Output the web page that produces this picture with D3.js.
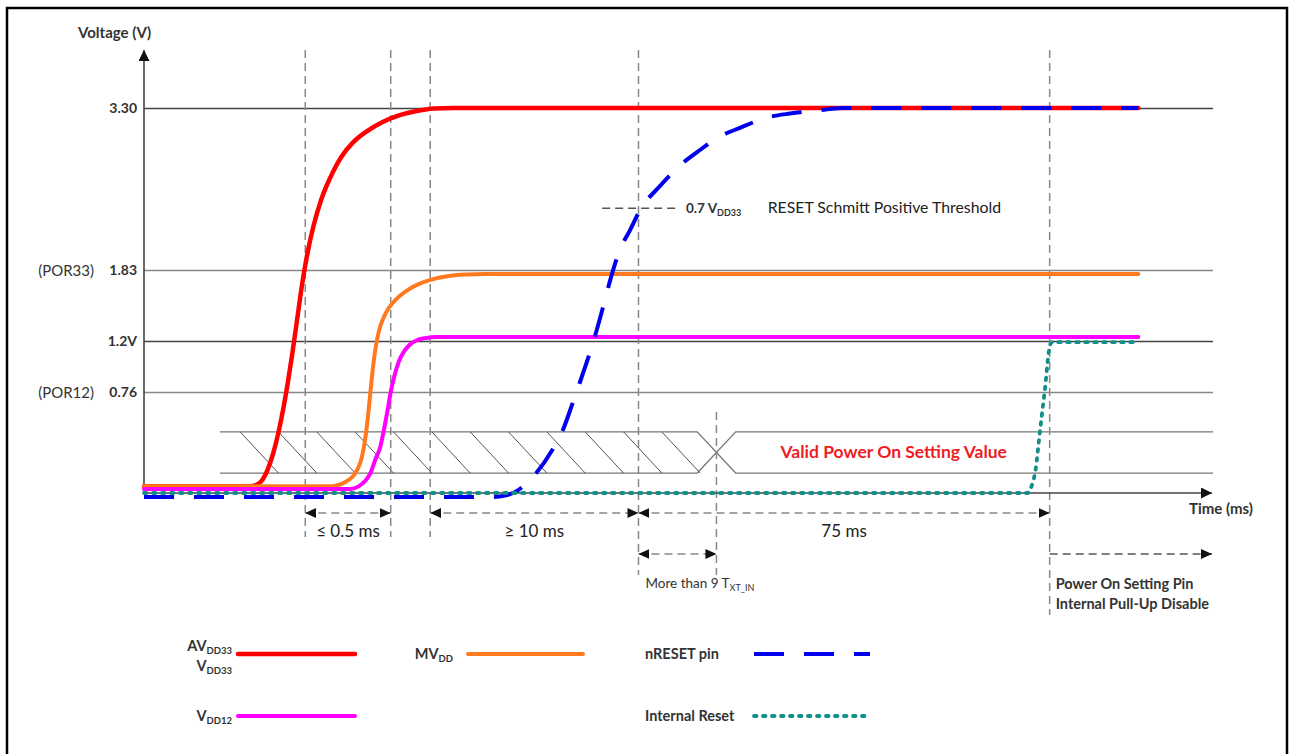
<!DOCTYPE html>
<html>
<head>
<meta charset="utf-8">
<script src="https://cdn.jsdelivr.net/npm/d3@7"></script>
<style>
body { margin: 0; background: #fff; }
svg text { font-family: Lato, 'Open Sans', sans-serif; fill: #222; }
</style>
</head>
<body>
<div id="chart"></div>
<script>
// voltage levels marked on the axis
var levelValues = [3.3, 1.83, 1.2, 0.76];
var levelLabels = ['3.30', '1.83', '1.2V', '0.76'];
var porLabels = ['', '(POR33)', '', '(POR12)'];

// event markers along the time axis (axis runs 0..100)
var markerTimes = [15.1, 23.1, 26.8, 46.3, 53.6, 84.8];

// waveforms: [time, volts]
var avdd33 = [[0, 0.05], [9.9, 0.05], [10.6, 0.065], [11.1, 0.1], [11.6, 0.18], [12.1, 0.3],
	[12.6, 0.46], [13.1, 0.66], [13.5, 0.86], [13.9, 1.1], [14.35, 1.4], [14.8, 1.7],
	[15.3, 1.98], [15.9, 2.24], [16.6, 2.47], [17.5, 2.68], [18.5, 2.86], [19.6, 2.99],
	[20.9, 3.09], [22.3, 3.17], [23.8, 3.23], [25.4, 3.27], [27.2, 3.295], [29, 3.3], [93.1, 3.3]];
var mvdd = [[0, 0.05], [17.4, 0.05], [18.2, 0.06], [18.9, 0.085], [19.5, 0.12], [20.0, 0.18],
	[20.4, 0.27], [20.7, 0.4], [20.95, 0.56], [21.2, 0.76], [21.45, 0.98], [21.7, 1.15],
	[22.0, 1.29], [22.4, 1.4], [22.9, 1.49], [23.6, 1.57], [24.5, 1.64], [25.6, 1.7],
	[26.9, 1.745], [28.4, 1.775], [30.2, 1.79], [32, 1.795], [93.1, 1.795]];
var vdd12 = [[0, 0.03], [19.3, 0.03], [20.1, 0.05], [20.7, 0.09], [21.2, 0.15], [21.7, 0.26],
	[22.1, 0.34], [22.45, 0.47], [22.8, 0.62], [23.1, 0.76], [23.45, 0.9], [23.85, 1.02],
	[24.35, 1.11], [24.9, 1.17], [25.5, 1.205], [26.3, 1.225], [27.5, 1.235], [93.1, 1.235]];
var nreset = [[0, -0.03], [32.6, -0.03], [33.8, -0.02], [35.0, 0.02], [36.4, 0.12], [38.2, 0.32],
	[39.15, 0.46], [40.15, 0.68], [40.8, 0.84], [41.75, 1.1], [42.4, 1.3], [43.15, 1.56],
	[43.65, 1.74], [44.55, 2.01], [45.5, 2.19], [46.6, 2.4], [48.1, 2.57], [50.2, 2.78],
	[51.8, 2.9], [53.9, 3.04], [55.8, 3.12], [58.6, 3.22], [60.5, 3.25], [63.3, 3.28],
	[65.6, 3.3], [93.1, 3.3]];
var internalReset = [[0, 0], [82.75, 0], [83.05, 0.04], [83.45, 0.16], [83.9, 0.47],
	[84.35, 0.78], [84.85, 1.17], [85.05, 1.19], [93.1, 1.19]];

// reset threshold as drawn
var thresholdVolts = 2.39;
var thresholdSpan = [42.9, 50.0];

// power-on setting bus: hatched (invalid) until busCross, valid after
var busVolts = [0.15, 0.46];
var busStart = 7.1;
var busCross = 53.6;
var busHalf = 1.8;
var busEnd = 100.1;

var spans = [
	{ from: 0, to: 1, label: '\u2264 0.5 ms', row: 0 },
	{ from: 2, to: 3, label: '\u2265 10 ms', row: 0 },
	{ from: 3, to: 5, label: '75 ms', row: 0 },
	{ from: 3, to: 4, label: '', row: 1 }
];

var legendItems = [
	{ lines: ['AV|DD33', 'V|DD33'], key: 'avdd33', col: 0, row: 0 },
	{ lines: ['MV|DD'], key: 'mvdd', col: 1, row: 0 },
	{ lines: ['nRESET pin'], key: 'nreset', col: 2, row: 0 },
	{ lines: ['V|DD12'], key: 'vdd12', col: 0, row: 1 },
	{ lines: ['Internal Reset'], key: 'internalReset', col: 2, row: 1 }
];

var series = {
	avdd33: { data: avdd33, color: '#ff0000', width: 4.5, dash: null, cap: 'round' },
	mvdd: { data: mvdd, color: '#ff7a1f', width: 4, dash: null, cap: 'round' },
	vdd12: { data: vdd12, color: '#ff00ff', width: 4, dash: null, cap: 'round' },
	nreset: { data: nreset, color: '#0000ee', width: 4, dash: '30,20', cap: 'butt' },
	internalReset: { data: internalReset, color: '#138f8a', width: 3.8, dash: '2.5,6.5', cap: 'round' }
};
var drawOrder = ['avdd33', 'mvdd', 'vdd12', 'nreset', 'internalReset'];

var width = 1290, height = 754;
var svg = d3.select('#chart').append('svg')
	.attr('width', width)
	.attr('height', height);

var x = d3.scaleLinear().domain([0, 100]).range([144, 1212]);
var y = d3.scaleLinear().domain([0, 0.76, 1.2, 1.83, 3.3]).range([493, 392, 341, 270, 108]);

var defs = svg.append('defs');
function arrowMarker(id, w, h) {
	defs.append('marker')
		.attr('id', id)
		.attr('viewBox', '0 0 ' + w + ' ' + h)
		.attr('refX', w).attr('refY', h / 2)
		.attr('markerWidth', w).attr('markerHeight', h)
		.attr('markerUnits', 'userSpaceOnUse')
		.attr('orient', 'auto-start-reverse')
		.append('path')
		.attr('d', 'M0,0L' + w + ',' + (h / 2) + 'L0,' + h + 'Z')
		.attr('fill', '#111');
}
arrowMarker('dimArrow', 11, 10);
arrowMarker('axisArrow', 11, 11);

function richText(sel, str, subSize) {
	var parts = str.split('|');
	sel.append('tspan').text(parts[0]);
	if (parts[1]) {
		sel.append('tspan').attr('font-size', subSize).attr('dy', 3).text(parts[1]);
	}
	return sel;
}

// frame
svg.append('rect')
	.attr('x', 7).attr('y', 8)
	.attr('width', 1280).attr('height', 770)
	.attr('fill', 'none')
	.attr('stroke', '#000')
	.attr('stroke-width', 2.5);

// level gridlines + labels
var levelAxis = svg.append('g')
	.attr('transform', 'translate(' + x(0) + ',0)')
	.call(d3.axisLeft(y)
		.tickValues(levelValues)
		.tickSize(-(x(busEnd) - x(0)))
		.tickPadding(7)
		.tickFormat(function(d, i) { return levelLabels[i]; }));
levelAxis.select('.domain').remove();
levelAxis.selectAll('.tick line')
	.attr('stroke', function(d, i) { return i % 2 === 0 ? '#444' : '#888'; })
	.attr('stroke-width', 1.5);
levelAxis.selectAll('.tick text')
	.style('font-family', 'Lato, sans-serif')
	.style('font-size', '14px')
	.style('font-weight', 'bold')
	.style('fill', '#333');

svg.append('g').selectAll('text')
	.data(levelValues)
	.enter().append('text')
	.filter(function(d, i) { return porLabels[i] !== ''; })
	.attr('x', 94)
	.attr('y', function(d) { return y(d) + 6; })
	.attr('text-anchor', 'end')
	.style('font-size', '15px')
	.style('fill', '#333')
	.text(function(d) { return porLabels[levelValues.indexOf(d)]; });

// power-on setting bus
var bus = svg.append('g').attr('stroke', '#777').attr('stroke-width', 1.3).attr('fill', 'none');
var bLo = y(busVolts[0]), bHi = y(busVolts[1]), bMid = (bLo + bHi) / 2;
bus.append('path').attr('d',
	'M' + x(busStart) + ',' + bHi + 'H' + x(busCross - busHalf) + 'L' + x(busCross + busHalf) + ',' + bLo + 'H' + x(busEnd) +
	'M' + x(busStart) + ',' + bLo + 'H' + x(busCross - busHalf) + 'L' + x(busCross + busHalf) + ',' + bHi + 'H' + x(busEnd));
var hatchStep = 3.59;
var hatchStarts = d3.range(busStart + 1.9, busCross - busHalf - hatchStep + 0.5, hatchStep);
bus.selectAll('line.hatch')
	.data(hatchStarts)
	.enter().append('line')
	.attr('class', 'hatch')
	.attr('x1', function(d) { return x(d); })
	.attr('y1', bHi)
	.attr('x2', function(d) { return x(d + hatchStep); })
	.attr('y2', bLo)
	.attr('stroke', '#555')
	.attr('stroke-width', 1);

svg.append('text')
	.attr('x', x(70.2))
	.attr('y', bMid + 6)
	.attr('text-anchor', 'middle')
	.style('font-size', '17.5px')
	.style('font-weight', 'bold')
	.style('fill', '#ee1d23')
	.text('Valid Power On Setting Value');

// event markers
var markerExtent = [[50, 537], [50, 537], [50, 537], [50, 575], [412, 575], [50, 615]];
svg.append('g').selectAll('line')
	.data(markerTimes)
	.enter().append('line')
	.attr('x1', function(d) { return x(d); })
	.attr('x2', function(d) { return x(d); })
	.attr('y1', function(d, i) { return markerExtent[i][0]; })
	.attr('y2', function(d, i) { return markerExtent[i][1]; })
	.attr('stroke', '#888')
	.attr('stroke-width', 1.5)
	.attr('stroke-dasharray', '8,5');

// axes
svg.append('line')
	.attr('x1', x(0)).attr('y1', y(0))
	.attr('x2', x(0)).attr('y2', 50)
	.attr('stroke', '#444').attr('stroke-width', 1.6)
	.attr('marker-end', 'url(#axisArrow)');
svg.append('line')
	.attr('x1', x(0)).attr('y1', y(0))
	.attr('x2', x(100)).attr('y2', y(0))
	.attr('stroke', '#444').attr('stroke-width', 1.6)
	.attr('marker-end', 'url(#axisArrow)');
svg.append('text')
	.attr('x', 78).attr('y', 38)
	.style('font-size', '15px').style('font-weight', 'bold').style('fill', '#333')
	.text('Voltage (V)');
svg.append('text')
	.attr('x', 1189).attr('y', 514)
	.style('font-size', '15px').style('font-weight', 'bold').style('fill', '#333')
	.text('Time (ms)');

// threshold
svg.append('line')
	.attr('x1', x(thresholdSpan[0])).attr('x2', x(thresholdSpan[1]))
	.attr('y1', y(thresholdVolts)).attr('y2', y(thresholdVolts))
	.attr('stroke', '#555').attr('stroke-width', 1.5).attr('stroke-dasharray', '8,5');
richText(svg.append('text')
	.attr('x', x(thresholdSpan[1]) + 8).attr('y', y(thresholdVolts) + 5)
	.style('font-size', '13.5px').style('font-weight', 'bold').style('fill', '#333'),
	'0.7 V|DD33', '9px');
svg.append('text')
	.attr('x', x(58.4)).attr('y', y(thresholdVolts) + 5)
	.style('font-size', '15.8px').style('fill', '#222')
	.text('RESET Schmitt Positive Threshold');

// waveforms
var line = d3.line()
	.x(function(d) { return x(d[0]); })
	.y(function(d) { return y(d[1]); })
	.curve(d3.curveMonotoneX);
svg.append('g').selectAll('path')
	.data(drawOrder)
	.enter().append('path')
	.attr('d', function(k) { return line(series[k].data); })
	.attr('fill', 'none')
	.attr('stroke', function(k) { return series[k].color; })
	.attr('stroke-width', function(k) { return series[k].width; })
	.attr('stroke-dasharray', function(k) { return series[k].dash; })
	.attr('stroke-linecap', function(k) { return series[k].cap; })
	.attr('stroke-linejoin', 'round');

// timing spans
var spanRows = [513, 554];
var spanG = svg.append('g');
spans.forEach(function(s) {
	var x1 = x(markerTimes[s.from]), x2 = x(markerTimes[s.to]), yy = spanRows[s.row];
	spanG.append('line')
		.attr('x1', x1).attr('x2', x2).attr('y1', yy).attr('y2', yy)
		.attr('stroke', '#888').attr('stroke-width', 1.5).attr('stroke-dasharray', '8,5')
		.attr('marker-start', 'url(#dimArrow)')
		.attr('marker-end', 'url(#dimArrow)');
	if (s.label) {
		spanG.append('text')
			.attr('x', (x1 + x2) / 2).attr('y', yy + 24)
			.attr('text-anchor', 'middle')
			.style('font-size', '17px').style('fill', '#222')
			.text(s.label);
	}
});
spanG.append('line')
	.attr('x1', x(markerTimes[5])).attr('x2', x(100))
	.attr('y1', spanRows[1]).attr('y2', spanRows[1])
	.attr('stroke', '#555').attr('stroke-width', 1.5).attr('stroke-dasharray', '8,5')
	.attr('marker-end', 'url(#dimArrow)');

richText(svg.append('text')
	.attr('x', x(markerTimes[3]) + 7).attr('y', 588)
	.style('font-size', '13.5px').style('fill', '#333'),
	'More than 9 T|XT_IN', '9px');
svg.append('text')
	.attr('x', x(markerTimes[5]) + 6).attr('y', 589)
	.style('font-size', '14.5px').style('font-weight', 'bold').style('fill', '#333')
	.text('Power On Setting Pin');
svg.append('text')
	.attr('x', x(markerTimes[5]) + 6).attr('y', 609)
	.style('font-size', '14.5px').style('font-weight', 'bold').style('fill', '#333')
	.text('Internal Pull-Up Disable');

// legend
var legendCols = [
	{ text: 232, anchor: 'end', x1: 238, x2: 355 },
	{ text: 453, anchor: 'end', x1: 468, x2: 583 },
	{ text: 645, anchor: 'start', x1: 754, x2: 870 }
];
var legendRows = [654, 716];
var legend = svg.append('g');
legendItems.forEach(function(item) {
	var c = legendCols[item.col], ly = legendRows[item.row], s = series[item.key];
	legend.append('line')
		.attr('x1', c.x1).attr('x2', c.x2).attr('y1', ly).attr('y2', ly)
		.attr('stroke', s.color)
		.attr('stroke-width', s.width)
		.attr('stroke-dasharray', s.dash)
		.attr('stroke-linecap', s.cap);
	var y0 = item.lines.length > 1 ? ly - 3 : ly + 5;
	item.lines.forEach(function(str, i) {
		richText(legend.append('text')
			.attr('x', c.text).attr('y', y0 + i * 20)
			.attr('text-anchor', c.anchor)
			.style('font-size', '14.5px').style('font-weight', 'bold').style('fill', '#333'),
			str, '9.5px');
	});
});
</script>
</body>
</html>
